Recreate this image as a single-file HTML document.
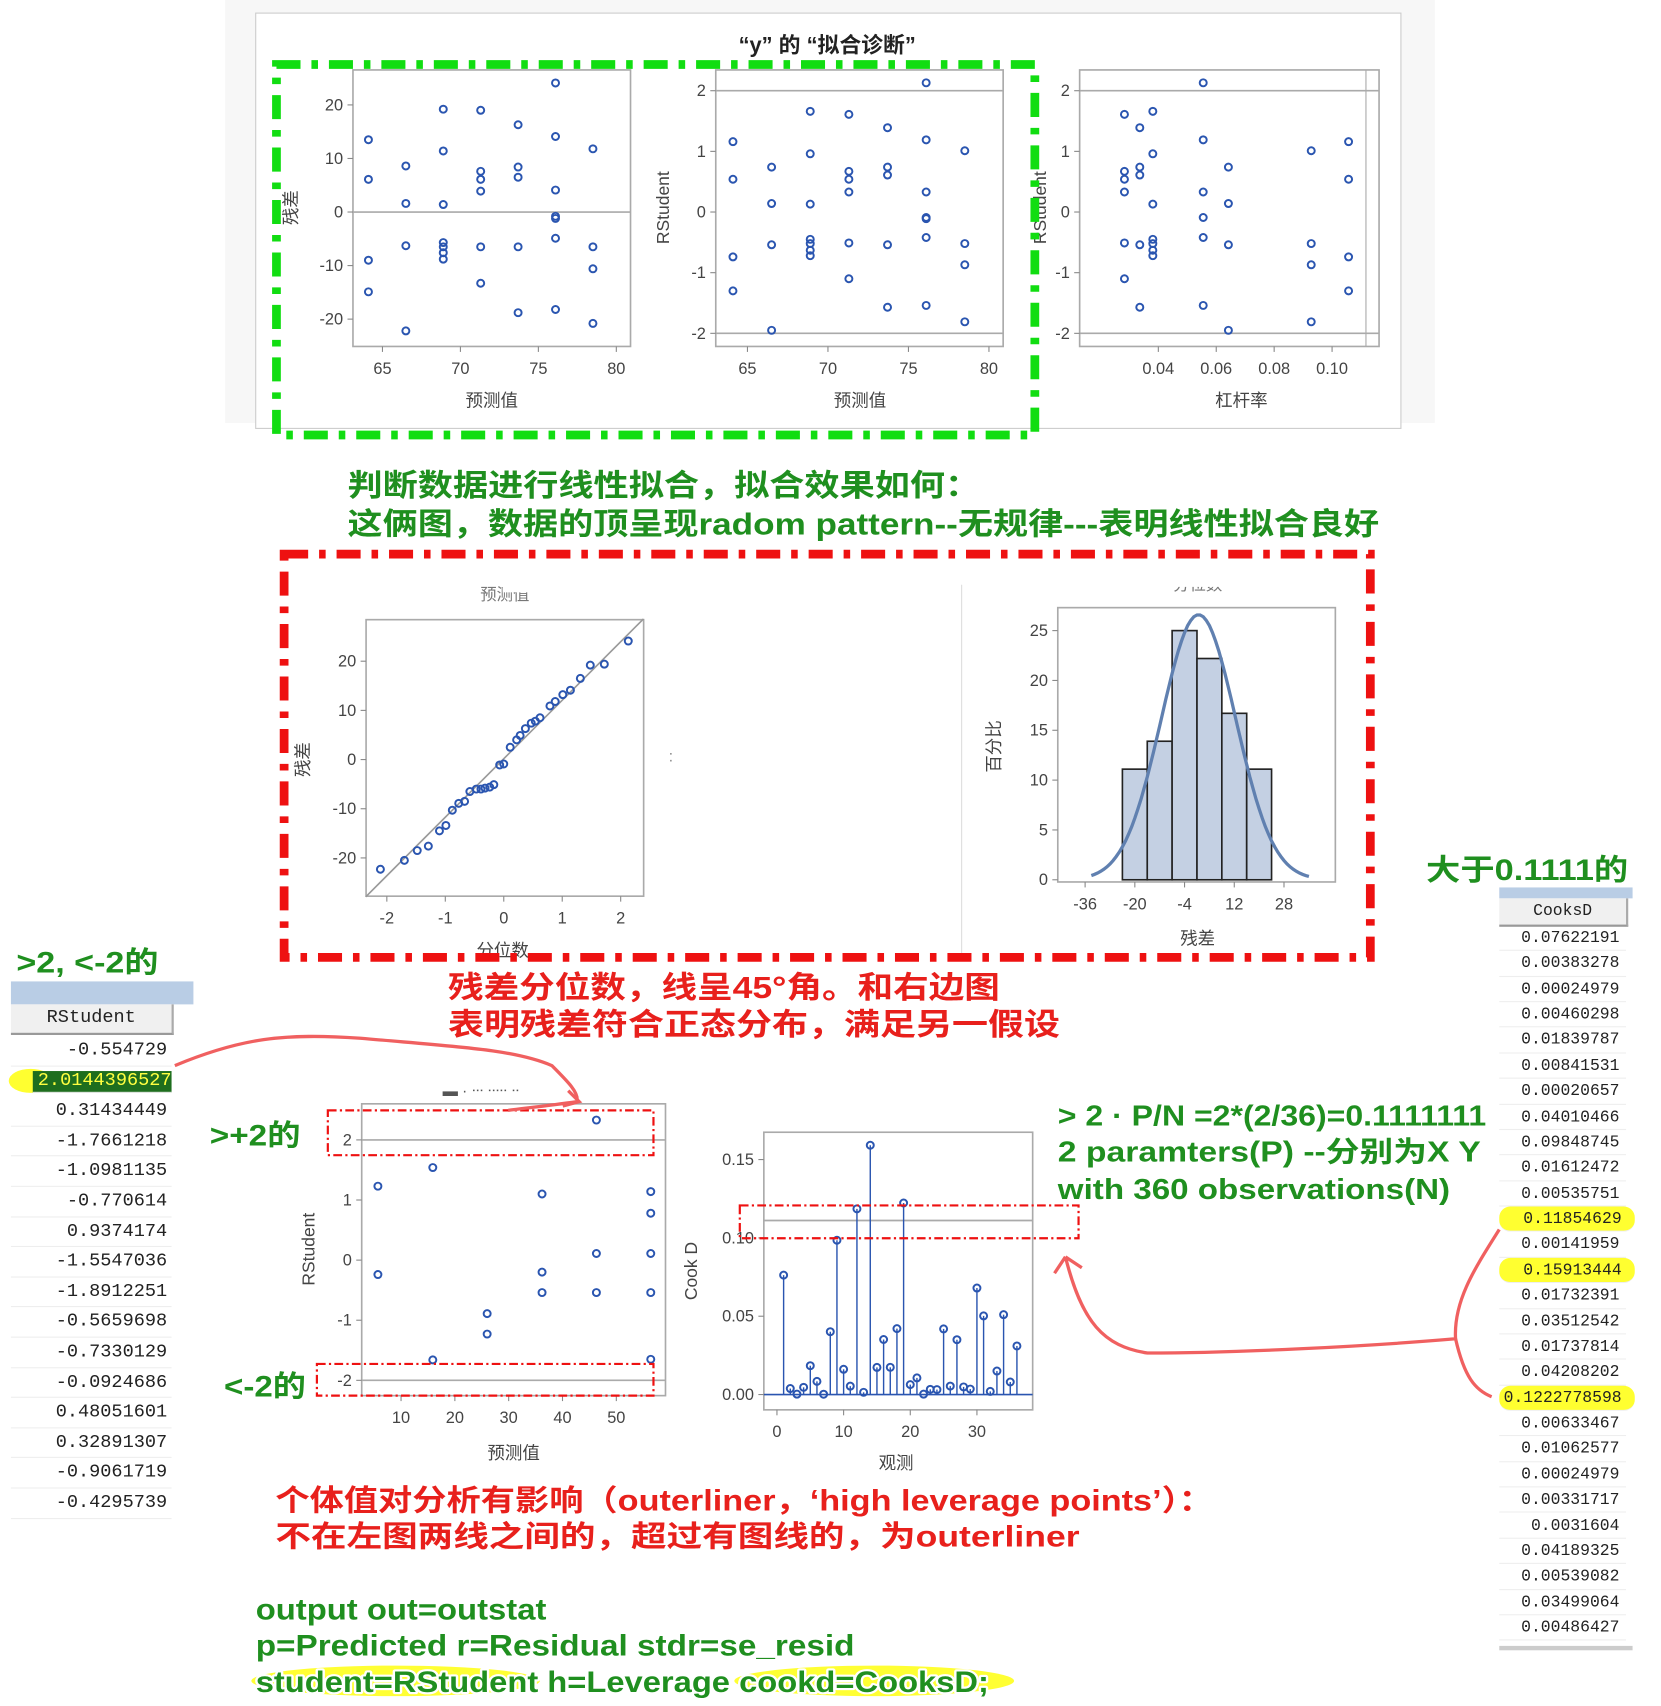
<!DOCTYPE html>
<html><head><meta charset="utf-8">
<style>
html,body{margin:0;padding:0;background:#fff;width:1661px;height:1706px;overflow:hidden}
#stage{position:absolute;left:0;top:0;width:1520px;height:1561px;transform:scale(1.09276,1.0929);transform-origin:0 0;font-family:"Liberation Sans","Noto Sans CJK SC",sans-serif}
svg{position:absolute;left:0;top:0}
.ann{font-weight:bold;paint-order:stroke;stroke:#fff;stroke-width:4px;stroke-linejoin:round}
.g{fill:#1f8f1f}.r{fill:#e8201c}
.tk{font-size:15px;fill:#444}
.lab{font-size:16px;fill:#444}
.tbl{position:absolute;font-family:"Liberation Mono","Noto Sans CJK SC",monospace;color:#222}
.row{position:absolute;left:0;right:0;border-bottom:1px solid #eee;text-align:right;box-sizing:border-box}
</style></head><body>
<div id="stage">
<svg id="sv" width="1520" height="1561" viewBox="0 0 1520 1561">
  <rect x="206" y="0" width="1107" height="387" fill="#f7f7f7"/>
  <rect x="234" y="12" width="1048" height="380" fill="#fff" stroke="#ccc"/>
  <text x="757" y="48" text-anchor="middle" font-size="20" font-weight="bold" fill="#222">“y” 的 “拟合诊断”</text>
  <g id="charts"></g>
  <line x1="880" y1="535" x2="880" y2="872" stroke="#ddd"/>
  <text x="612" y="697" font-size="14" fill="#888">:</text>
  <text x="462" y="549" text-anchor="middle" font-size="15" fill="#777">预测值</text>
  <text x="1096" y="540" text-anchor="middle" font-size="15" fill="#777">分位数</text>
  <rect x="460" y="530" width="80" height="12" fill="#fff"/><rect x="1050" y="525" width="100" height="12" fill="#fff"/>
  <text x="440" y="1003" text-anchor="middle" font-size="14" fill="#555">▬  ·  ᐧᐧᐧ  ᐧᐧᐧᐧᐧ  ᐧᐧ</text>
  <rect x="253" y="59" width="694" height="339" fill="none" stroke="#11dd11" stroke-width="8" stroke-dasharray="22 10 6 10"/>
  <rect x="260" y="507" width="994" height="369" fill="none" stroke="#ee1111" stroke-width="8" stroke-dasharray="22 10 6 10"/>
  <rect x="300" y="1016" width="298" height="41" fill="none" stroke="#ee1111" stroke-width="2" stroke-dasharray="8 3 2 3"/>
  <rect x="290" y="1248" width="308" height="29" fill="none" stroke="#ee1111" stroke-width="2" stroke-dasharray="8 3 2 3"/>
  <rect x="677" y="1103" width="310" height="30" fill="none" stroke="#ee1111" stroke-width="2" stroke-dasharray="8 3 2 3"/>
  <path d="M160 975 C220 950 260 945 330 950 C420 958 470 960 505 975 C520 990 530 1000 528 1008 C500 1012 480 1014 465 1016" fill="none" stroke="#f06060" stroke-width="3"/>
  <path d="M520 998 L530 1008 L515 1012" fill="none" stroke="#f06060" stroke-width="3"/>
  <path d="M1372 1125 C1350 1160 1330 1190 1332 1225 C1250 1232 1130 1238 1050 1238 C1010 1232 990 1210 975 1150 M975 1150 L965 1165 M975 1150 L990 1160" fill="none" stroke="#f06060" stroke-width="3"/>
  <path d="M1332 1225 C1340 1260 1350 1272 1365 1278" fill="none" stroke="#f06060" stroke-width="3"/>
  <text class="ann g" x="318" y="454" font-size="28" textLength="579" lengthAdjust="spacingAndGlyphs">判断数据进行线性拟合，拟合效果如何：</text>
  <text class="ann g" x="318" y="489" font-size="28" textLength="944" lengthAdjust="spacingAndGlyphs">这俩图，数据的顶呈现radom pattern--无规律---表明线性拟合良好</text>
  <text class="ann r" x="410" y="913" font-size="28" textLength="505" lengthAdjust="spacingAndGlyphs">残差分位数，线呈45°角。和右边图</text>
  <text class="ann r" x="410" y="947" font-size="28" textLength="560" lengthAdjust="spacingAndGlyphs">表明残差符合正态分布，满足另一假设</text>
  <text class="ann g" x="15" y="890" font-size="27" textLength="130" lengthAdjust="spacingAndGlyphs">&gt;2, &lt;-2的</text>
  <text class="ann g" x="1305" y="805" font-size="27" textLength="185" lengthAdjust="spacingAndGlyphs">大于0.1111的</text>
  <text class="ann g" x="192" y="1048" font-size="27" textLength="83" lengthAdjust="spacingAndGlyphs">&gt;+2的</text>
  <text class="ann g" x="205" y="1278" font-size="27" textLength="75" lengthAdjust="spacingAndGlyphs">&lt;-2的</text>
  <text class="ann g" x="968" y="1030" font-size="26" textLength="392" lengthAdjust="spacingAndGlyphs">&gt; 2 · P/N =2*(2/36)=0.1111111</text>
  <text class="ann g" x="968" y="1063" font-size="26" textLength="387" lengthAdjust="spacingAndGlyphs">2 paramters(P) --分别为X Y</text>
  <text class="ann g" x="968" y="1097" font-size="26" textLength="359" lengthAdjust="spacingAndGlyphs">with 360 observations(N)</text>
  <text class="ann r" x="252" y="1382" font-size="27" textLength="858" lengthAdjust="spacingAndGlyphs">个体值对分析有影响（outerliner，‘high leverage points’）：</text>
  <text class="ann r" x="252" y="1415" font-size="27" textLength="736" lengthAdjust="spacingAndGlyphs">不在左图两线之间的，超过有图线的，为outerliner</text>
  <ellipse cx="362" cy="1538" rx="132" ry="14" fill="#ffff33"/>
  <ellipse cx="800" cy="1538" rx="128" ry="14" fill="#ffff33"/>
  <text class="ann g" x="234" y="1482" font-size="27" textLength="266" lengthAdjust="spacingAndGlyphs">output out=outstat</text>
  <text class="ann g" x="234" y="1515" font-size="27" textLength="548" lengthAdjust="spacingAndGlyphs">p=Predicted  r=Residual stdr=se_resid</text>
  <text class="ann g" x="234" y="1548" font-size="27" textLength="671" lengthAdjust="spacingAndGlyphs">student=RStudent h=Leverage cookd=CooksD;</text>
</svg>

<div class="tbl" style="left:10px;top:898px;width:167px;height:500px;font-size:17px">
  <div style="position:absolute;left:0;top:0;width:167px;height:21px;background:#b9cde5"></div>
  <div style="position:absolute;left:0;top:21px;width:147px;height:26px;background:#f0f0f0;border-bottom:2px solid #999;border-right:2px solid #aaa;text-align:center;line-height:26px">RStudent</div>
  <div id="ltab"></div>
</div>
<div class="tbl" style="left:1372px;top:812px;width:122px;height:700px;font-size:15px">
  <div style="position:absolute;left:0;top:0;width:122px;height:10px;background:#b9cde5"></div>
  <div style="position:absolute;left:0;top:10px;width:116px;height:24px;background:#f0f0f0;border-bottom:2px solid #999;border-right:2px solid #aaa;text-align:center;line-height:24px">CooksD</div>
  <div id="rtab"></div>
  <div style="position:absolute;left:0;top:694px;width:122px;height:4px;background:#ccc"></div>
</div>
</div>
<script>
const predX=[64.1,64.1,64.1,64.1,66.5,66.5,66.5,66.5,68.9,68.9,68.9,68.9,68.9,68.9,68.9,71.3,71.3,71.3,71.3,71.3,71.3,73.7,73.7,73.7,73.7,73.7,76.1,76.1,76.1,76.1,76.1,76.1,76.1,78.5,78.5,78.5,78.5];
const residY=[13.5,6.1,-9.0,-14.9,8.6,1.6,-6.3,-22.2,19.2,11.4,1.4,-5.7,-6.5,-7.6,-8.8,19.0,7.6,6.1,3.9,-6.5,-13.3,16.3,8.4,6.5,-6.5,-18.8,24.1,14.1,4.1,-0.8,-1.2,-4.9,-18.2,11.8,-6.5,-10.6,-20.8];
const rstudY=[1.16,0.54,-0.74,-1.30,0.74,0.14,-0.54,-1.95,1.66,0.96,0.13,-0.45,-0.52,-0.63,-0.72,1.61,0.67,0.54,0.33,-0.51,-1.10,1.39,0.74,0.61,-0.54,-1.57,2.13,1.19,0.33,-0.09,-0.11,-0.42,-1.54,1.01,-0.52,-0.87,-1.81];
const levX=[0.0283,0.0283,0.0283,0.0283,0.0283,0.0283,0.0336,0.0336,0.0336,0.0336,0.0336,0.0381,0.0381,0.0381,0.0381,0.0381,0.0381,0.0381,0.0555,0.0555,0.0555,0.0555,0.0555,0.0555,0.0642,0.0642,0.0642,0.0642,0.0928,0.0928,0.0928,0.0928,0.1057,0.1057,0.1057,0.1057];
const levY=[1.61,0.67,0.54,0.33,-0.51,-1.10,1.39,0.74,0.61,-0.54,-1.57,1.66,0.96,0.13,-0.45,-0.52,-0.63,-0.72,2.13,1.19,0.33,-0.09,-0.42,-1.54,0.74,0.14,-0.54,-1.95,1.01,-0.52,-0.87,-1.81,1.16,0.54,-0.74,-1.30];
const qqX=[-2.11,-1.70,-1.48,-1.29,-1.10,-0.99,-0.88,-0.77,-0.67,-0.58,-0.47,-0.39,-0.32,-0.24,-0.17,-0.07,0.0,0.11,0.22,0.28,0.37,0.47,0.54,0.62,0.79,0.88,1.01,1.14,1.31,1.48,1.72,2.13];
const qqY=[-22.3,-20.5,-18.5,-17.6,-14.5,-13.4,-10.3,-8.9,-8.5,-6.5,-6.0,-6.0,-5.8,-5.6,-5.1,-1.1,-0.9,2.5,4.0,4.9,6.3,7.4,7.8,8.5,10.9,11.8,13.2,14.1,16.5,19.2,19.4,24.1];
const qqLineX=[-2.36,2.39];
const qqLineY=[-27.9,28.6];
const binStart=[-24,-16,-8,0,8,16];
const binPct=[11.1,13.9,25,22.2,16.7,11.1];
const normMean=[0.5];
const normSd=[12];
const rsPredX=[5.7,5.7,15.9,15.9,26,26,36.2,36.2,36.2,46.3,46.3,46.3,56.4,56.4,56.4,56.4,56.4];
const rsValY=[1.23,-0.24,1.54,-1.66,-0.89,-1.23,1.10,-0.2,-0.54,2.33,0.11,-0.54,1.14,0.78,0.11,-0.54,-1.65];
const cookObs=[1,2,3,4,5,6,7,8,9,10,11,12,13,14,15,16,17,18,19,20,21,22,23,24,25,26,27,28,29,30,31,32,33,34,35,36];
const cookVal=[0.07622191,0.00383278,0.00024979,0.00460298,0.01839787,0.00841531,0.00020657,0.04010466,0.09848745,0.01612472,0.00535751,0.11854629,0.00141959,0.15913444,0.01732391,0.03512542,0.01737814,0.04208202,0.1222778598,0.00633467,0.01062577,0.00024979,0.00331717,0.0031604,0.04189325,0.00539082,0.03499064,0.00486427,0.0035,0.068,0.0502,0.002,0.015,0.051,0.008,0.031];
const rstudTable=["-0.554729","2.0144396527","0.31434449","-1.7661218","-1.0981135","-0.770614","0.9374174","-1.5547036","-1.8912251","-0.5659698","-0.7330129","-0.0924686","0.48051601","0.32891307","-0.9061719","-0.4295739"];
const cookTable=["0.07622191","0.00383278","0.00024979","0.00460298","0.01839787","0.00841531","0.00020657","0.04010466","0.09848745","0.01612472","0.00535751","0.11854629","0.00141959","0.15913444","0.01732391","0.03512542","0.01737814","0.04208202","0.1222778598","0.00633467","0.01062577","0.00024979","0.00331717","0.0031604","0.04189325","0.00539082","0.03499064","0.00486427"];
const p1XT=[65,70,75,80], p1YT=[20,10,0,-10,-20];
const p2YT=[2,1,0,-1,-2], p3XT=[0.04,0.06,0.08,0.10];
const qqXT=[-2,-1,0,1,2], qqYT=[20,10,0,-10,-20];
const hXT=[-36,-20,-4,12,28], hYT=[0,5,10,15,20,25];
const rsXT=[10,20,30,40,50], cXT=[0,10,20,30], cYT=[0.00,0.05,0.10,0.15];

const NS='http://www.w3.org/2000/svg';
const G=document.getElementById('charts');
function el(tag,a,p){const e=document.createElementNS(NS,tag);for(const k in a)e.setAttribute(k,a[k]);(p||G).appendChild(e);return e;}
function lin(d0,d1,p0,p1){return v=>p0+(v-d0)*(p1-p0)/(d1-d0);}
function frame(name,x0,y0,x1,y1){const r=el('rect',{x:x0,y:y0,width:x1-x0,height:y1-y0,fill:'#fff',stroke:'#aaa','stroke-width':1.5});

}
function xticks(name,ticks,sx,y,fmt){ticks.forEach(t=>{const x=sx(t);el('line',{x1:x,y1:y,x2:x,y2:y+5,stroke:'#888'});
const tx=el('text',{x:x,y:y+25,'text-anchor':'middle',class:'tk'});tx.textContent=fmt?fmt(t):t;

});}
function yticks(name,ticks,sy,x,fmt){ticks.forEach(t=>{const y=sy(t);el('line',{x1:x,y1:y,x2:x-5,y2:y,stroke:'#888'});
const tx=el('text',{x:x-9,y:y+5,'text-anchor':'end',class:'tk'});tx.textContent=fmt?fmt(t):t;

});}
function label(name,txt,x,y,rot){const t=el('text',{x:x,y:y,'text-anchor':'middle',class:'lab',transform:rot?`rotate(-90 ${x} ${y})`:''});t.textContent=txt;

}
function hline(name,x0,x1,y){const l=el('line',{x1:x0,x2:x1,y1:y,y2:y,stroke:'#aaa','stroke-width':1.5});

}
function pts(name,xs,ys,sx,sy){xs.forEach((v,i)=>{const c=el('circle',{cx:sx(v),cy:sy(ys[i]),r:3.2,fill:'none',stroke:'#2a55b0','stroke-width':1.8});

});}

{const sx=lin(65,80,350,564), sy=lin(0,20,194,96);
frame('resid-plot',323,64,577,317);hline('resid-zero-line',323,577,sy(0));
xticks('resid-plot',p1XT,sx,317);yticks('resid-plot',p1YT,sy,323);
pts('resid',predX,residY,sx,sy);label('resid-y-title','残差',272,190,true);label('resid-x-title','预测值',450,372);}
{const sx=lin(65,80,684,905), sy=lin(0,2,194,83);
frame('rstudent-pred-plot',655,64,918,317);hline('rstudent-plus2-line',655,918,sy(2));hline('rstudent-minus2-line',655,918,sy(-2));
xticks('rstudent-pred-plot',p1XT,sx,317);yticks('rstudent-pred-plot',p2YT,sy,655);
pts('rstudent-pred',predX,rstudY,sx,sy);label('rstudent-pred-y-title','RStudent',612,190,true);label('rstudent-pred-x-title','预测值',787,372);}
{const sx=lin(0.04,0.10,1060,1219), sy=lin(0,2,194,83);
frame('leverage-plot',988,64,1262,317);hline('lev-plus2-line',988,1262,sy(2));hline('lev-minus2-line',988,1262,sy(-2));
el('line',{x1:1250,x2:1250,y1:64,y2:317,stroke:'#aaa'});
xticks('leverage-plot',p3XT,sx,317,t=>t.toFixed(2));yticks('leverage-plot',p2YT,sy,988);
pts('leverage',levX,levY,sx,sy);label('leverage-y-title','RStudent',957,190,true);label('leverage-x-title','杠杆率',1136,372);}
{const sx=lin(-2,2,354,568), sy=lin(0,20,695,605);
frame('qq-plot',335,567,589,820);
const l=el('line',{x1:sx(qqLineX[0]),y1:sy(qqLineY[0]),x2:sx(qqLineX[1]),y2:sy(qqLineY[1]),stroke:'#999','stroke-width':1.5});


xticks('qq-plot',qqXT,sx,820);yticks('qq-plot',qqYT,sy,335);
pts('qq',qqX,qqY,sx,sy);label('qq-y-title','残差',283,695,true);label('qq-x-title','分位数',460,875);}
{const sx=lin(-36,28,993,1175), sy=lin(0,25,805,577);
frame('hist-plot',968,556,1222,807);
binStart.forEach((b,i)=>{const r=el('rect',{x:sx(b),y:sy(binPct[i]),width:sx(b+8)-sx(b),height:sy(0)-sy(binPct[i]),fill:'#c4d0e3',stroke:'#222','stroke-width':1.5});

});
let d='';for(let v=-34;v<=36;v+=1){const y=800/(normSd[0]*Math.sqrt(2*Math.PI))*Math.exp(-0.5*((v-normMean[0])/normSd[0])**2);d+=(d?'L':'M')+sx(v).toFixed(1)+' '+sy(y).toFixed(1);}
const c=el('path',{d:d,fill:'none',stroke:'#6080b0','stroke-width':3});


xticks('hist-plot',hXT,sx,807);yticks('hist-plot',hYT,sy,968);
label('hist-y-title','百分比',915,683,true);label('hist-x-title','残差',1096,864);}
{const sx=lin(10,50,367,564), sy=lin(0,2,1153,1043);
frame('rstudent-bottom-plot',331,1010,609,1277);hline('rs-plus2-line',331,609,sy(2));hline('rs-minus2-line',331,609,sy(-2));
xticks('rstudent-bottom-plot',rsXT,sx,1277);yticks('rstudent-bottom-plot',p2YT,sy,331);
pts('rs-bottom',rsPredX,rsValY,sx,sy);label('rs-bottom-y-title','RStudent',288,1143,true);label('rs-bottom-x-title','预测值',470,1335);}
{const sx=lin(0,30,711,894), sy=lin(0,0.15,1276,1061);
frame('cooksd-plot',699,1036,945,1290);hline('cooksd-threshold-line',699,945,sy(0.1111));
el('line',{x1:699,x2:945,y1:sy(0),y2:sy(0),stroke:'#2a55b0','stroke-width':1.5});
cookObs.forEach((o,i)=>{const x=sx(o);const n=el('line',{x1:x,x2:x,y1:sy(0),y2:sy(cookVal[i]),stroke:'#2a55b0','stroke-width':1.3});

});
pts('cooksd',cookObs,cookVal,sx,sy);
xticks('cooksd-plot',cXT,sx,1290);yticks('cooksd-plot',cYT,sy,699,t=>t.toFixed(2));
label('cooksd-y-title','Cook D',638,1163,true);label('cooksd-x-title','观测',820,1344);}

const lt=document.getElementById('ltab');
rstudTable.forEach((v,i)=>{const d=document.createElement('div');d.className='row';
d.style.top=(50+i*27.6)+'px';d.style.height='27.6px';d.style.lineHeight='27.6px';d.style.width='147px';d.style.paddingRight='4px';
d.textContent=v;
if(i===1){d.style.background='#1e6e1e';d.style.color='#ffff40';d.style.left='20px';d.style.width='127px';d.style.height='20px';d.style.lineHeight='20px';d.style.marginTop='4px';d.style.paddingRight='0';d.style.overflow='hidden';}


lt.appendChild(d);});
const hl=document.createElement('div');hl.style.cssText='position:absolute;left:-2px;top:80px;width:40px;height:22px;border-radius:50%;background:#ffff30;z-index:-1';


lt.appendChild(hl);
const rt=document.getElementById('rtab');
cookTable.forEach((v,i)=>{const d=document.createElement('div');d.className='row';
d.style.top=(35+i*23.37)+'px';d.style.height='23.37px';d.style.lineHeight='23.37px';d.style.width='116px';d.style.paddingRight='6px';
d.textContent=v;
if(parseFloat(v)>0.1111){d.style.background='#ffff30';d.style.borderRadius='10px';d.style.width='124px';d.style.paddingRight='12px';}


rt.appendChild(d);});
</script>
</body></html>
